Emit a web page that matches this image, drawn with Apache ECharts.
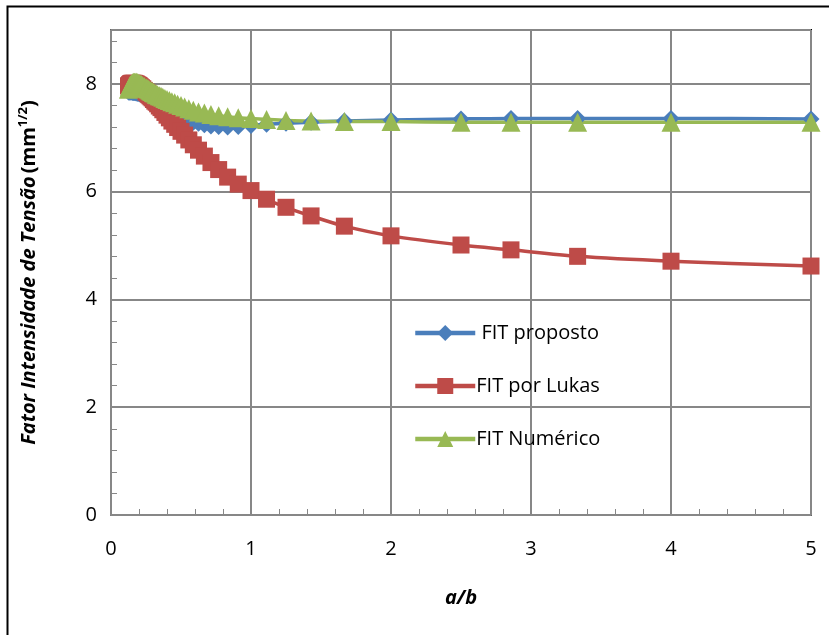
<!DOCTYPE html>
<html>
<head>
<meta charset="utf-8">
<script src="https://cdn.jsdelivr.net/npm/echarts@6/dist/echarts.min.js"></script>
<style>
  html, body { margin: 0; padding: 0; background: #fff; }
  #chart { width: 829px; height: 635px; }
</style>
</head>
<body>
<div id="chart"></div>
<script>
// a/b values
var xVals = [0.125, 0.128, 0.132, 0.135, 0.139, 0.143, 0.147, 0.152, 0.156, 0.161,
  0.167, 0.172, 0.179, 0.185, 0.192, 0.2, 0.208, 0.217, 0.227, 0.238,
  0.25, 0.256, 0.263, 0.27, 0.278, 0.286, 0.294, 0.303, 0.313, 0.323,
  0.333, 0.345, 0.357, 0.37, 0.385, 0.4, 0.417, 0.435, 0.455, 0.476,
  0.5, 0.526, 0.556, 0.588, 0.625, 0.667, 0.714, 0.769, 0.833, 0.909,
  1, 1.111, 1.25, 1.429, 1.667, 2, 2.5, 2.857, 3.333, 4, 5];

var fitProposto = [7.85, 7.85, 7.85, 7.85, 7.85, 7.85, 7.85, 7.85, 7.84, 7.84,
  7.84, 7.84, 7.83, 7.83, 7.82, 7.82, 7.81, 7.81, 7.80, 7.79,
  7.78, 7.77, 7.76, 7.75, 7.74, 7.73, 7.72, 7.71, 7.69, 7.67,
  7.65, 7.63, 7.61, 7.58, 7.56, 7.53, 7.50, 7.47, 7.44, 7.41,
  7.38, 7.35, 7.32, 7.29, 7.27, 7.24, 7.22, 7.21, 7.20, 7.21,
  7.23, 7.25, 7.27, 7.29, 7.31, 7.33, 7.35, 7.36, 7.36, 7.36, 7.35];

var fitLukas = [7.96, 7.97, 7.98, 7.99, 8.00, 8.00, 8.01, 8.01, 8.01, 8.01,
  8.01, 8.00, 8.00, 7.99, 7.98, 7.97, 7.95, 7.93, 7.91, 7.88,
  7.85, 7.84, 7.82, 7.80, 7.78, 7.76, 7.74, 7.71, 7.68, 7.66,
  7.63, 7.59, 7.56, 7.52, 7.47, 7.42, 7.37, 7.31, 7.25, 7.19,
  7.12, 7.05, 6.96, 6.87, 6.77, 6.66, 6.54, 6.41, 6.27, 6.14,
  6.02, 5.86, 5.71, 5.55, 5.36, 5.18, 5.01, 4.92, 4.80, 4.71, 4.62];

var fitNumerico = [7.90, 7.92, 7.94, 7.96, 7.98, 7.99, 8.00, 8.01, 8.02, 8.03,
  8.03, 8.03, 8.03, 8.03, 8.02, 8.01, 8.00, 7.99, 7.97, 7.95,
  7.93, 7.92, 7.91, 7.90, 7.88, 7.87, 7.86, 7.84, 7.83, 7.81,
  7.80, 7.78, 7.77, 7.75, 7.73, 7.71, 7.69, 7.67, 7.65, 7.62,
  7.60, 7.57, 7.54, 7.51, 7.48, 7.46, 7.43, 7.41, 7.39, 7.37,
  7.36, 7.34, 7.32, 7.31, 7.30, 7.30, 7.29, 7.29, 7.29, 7.29, 7.29];

var seriesNames = [' FIT proposto', 'FIT por Lukas', 'FIT Numérico'];

function pairs(ys) {
  return xVals.map(function (x, i) { return [x, ys[i]]; });
}

var chart = echarts.init(document.getElementById('chart'));
var font = '"Open Sans", "Noto Sans", sans-serif';
var gridGray = '#878787';

chart.setOption({
  animation: false,
  textStyle: { fontFamily: font },
  graphic: [{
    type: 'rect',
    shape: { x: 7.5, y: 6.5, width: 900, height: 700 },
    style: { fill: 'none', stroke: '#000', lineWidth: 2 },
    silent: true
  }],
  grid: {
    left: 111, right: 18, top: 30, bottom: 120,
    show: true, borderColor: '#000', borderWidth: 2
  },
  legend: {
    orient: 'vertical',
    left: 408, top: 318,
    itemWidth: 60, itemHeight: 20,
    itemGap: 33,
    lineStyle: { width: 4.5 },
    textStyle: { fontSize: 20, color: '#000', fontFamily: font, padding: [0, 0, 0, -4] },
    data: seriesNames
  },
  xAxis: {
    type: 'value',
    min: 0, max: 5, interval: 1,
    name: 'a/b',
    nameLocation: 'middle',
    nameGap: 73,
    nameTextStyle: { fontSize: 20, fontWeight: 'bold', fontStyle: 'italic', color: '#000', fontFamily: font },
    axisLine: { show: true, onZero: false, lineStyle: { color: gridGray, width: 2 } },
    axisTick: { show: true, inside: true, length: 6, lineStyle: { color: gridGray, width: 1 } },
    minorTick: { show: true, splitNumber: 5, length: 6, lineStyle: { color: gridGray, width: 1 } },
    axisLabel: { fontSize: 20, color: '#000', margin: 24, fontFamily: font },
    splitLine: { show: true, lineStyle: { color: gridGray, width: 2 } }
  },
  yAxis: {
    type: 'value',
    min: 0, max: 9, interval: 2,
    name: '{it|Fator Intensidade de Tensão} {b|(mm}{sup|1/2}{b|)}',
    nameLocation: 'middle',
    nameGap: 72,
    nameRotate: 90,
    nameTextStyle: {
      color: '#000',
      rich: {
        it: { fontSize: 20, fontWeight: 'bold', fontStyle: 'italic', color: '#000', fontFamily: font, lineHeight: 22, verticalAlign: 'bottom' },
        b: { fontSize: 20, fontWeight: 'bold', color: '#000', fontFamily: font, lineHeight: 22, verticalAlign: 'bottom' },
        sup: { fontSize: 13, fontWeight: 'bold', color: '#000', fontFamily: font, lineHeight: 22, verticalAlign: 'top' }
      }
    },
    axisLine: { show: true, onZero: false, lineStyle: { color: gridGray, width: 2 } },
    axisTick: { show: true, inside: true, length: 6, lineStyle: { color: gridGray, width: 1 } },
    minorTick: { show: true, splitNumber: 5, length: 6, lineStyle: { color: gridGray, width: 1 } },
    axisLabel: { fontSize: 20, color: '#000', margin: 14, fontFamily: font, showMaxLabel: false },
    splitLine: { show: true, lineStyle: { color: gridGray, width: 2 } }
  },
  series: [
    {
      name: seriesNames[0],
      type: 'line',
      data: pairs(fitProposto),
      symbol: 'diamond',
      symbolSize: 17,
      smooth: 0.3,
      lineStyle: { color: '#4A7EBB', width: 3.5 },
      itemStyle: { color: '#4A7EBB' }
    },
    {
      name: seriesNames[1],
      type: 'line',
      data: pairs(fitLukas),
      symbol: 'rect',
      symbolSize: 17,
      smooth: 0.3,
      lineStyle: { color: '#BE4B48', width: 3.5 },
      itemStyle: { color: '#BE4B48' }
    },
    {
      name: seriesNames[2],
      type: 'line',
      data: pairs(fitNumerico),
      symbol: 'triangle',
      symbolSize: 19,
      smooth: 0.3,
      lineStyle: { color: '#98B954', width: 3.5 },
      itemStyle: { color: '#98B954' }
    }
  ]
});
</script>
</body>
</html>
